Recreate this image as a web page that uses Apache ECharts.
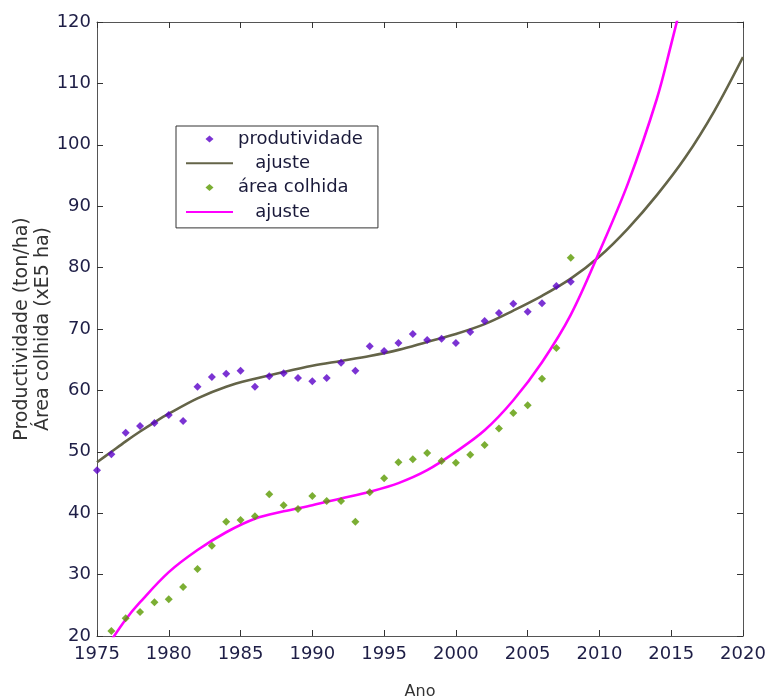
<!DOCTYPE html>
<html>
<head>
<meta charset="utf-8">
<script src="https://cdn.jsdelivr.net/npm/echarts@6/dist/echarts.min.js"></script>
<style>
  html, body { margin: 0; padding: 0; background: #fff; }
  #chart { width: 768px; height: 700px; }
</style>
</head>
<body>
<div id="chart"></div>
<script>
// Observed yearly productivity (ton/ha)
const prodYears = [1975, 1976, 1977, 1978, 1979, 1980, 1981, 1982, 1983, 1984, 1985, 1986,
  1987, 1988, 1989, 1990, 1991, 1992, 1993, 1994, 1995, 1996, 1997, 1998, 1999, 2000,
  2001, 2002, 2003, 2004, 2005, 2006, 2007, 2008];
const prodValues = [47.0, 49.6, 53.1, 54.2, 54.7, 56.0, 55.0, 60.6, 62.2, 62.7, 63.2, 60.6,
  62.3, 62.8, 62.0, 61.5, 62.0, 64.5, 63.2, 67.2, 66.4, 67.7, 69.2, 68.2, 68.4, 67.7,
  69.5, 71.3, 72.6, 74.1, 72.8, 74.2, 77.0, 77.7];

// Observed harvested area (x 1E5 ha)
const areaYears = [1976, 1977, 1978, 1979, 1980, 1981, 1982, 1983, 1984, 1985, 1986,
  1987, 1988, 1989, 1990, 1991, 1992, 1993, 1994, 1995, 1996, 1997, 1998, 1999, 2000,
  2001, 2002, 2003, 2004, 2005, 2006, 2007, 2008];
const areaValues = [20.8, 22.9, 23.9, 25.5, 26.0, 28.0, 30.9, 34.7, 38.6, 38.9, 39.5,
  43.1, 41.3, 40.7, 42.8, 42.0, 42.0, 38.6, 43.4, 45.7, 48.3, 48.8, 49.8, 48.5, 48.2,
  49.5, 51.1, 53.8, 56.3, 57.6, 61.9, 66.9, 81.6];

// Fitted curve for productivity
const prodFitYears = [1975, 1976, 1977, 1978, 1979, 1980, 1982, 1984, 1986, 1988, 1990,
  1992, 1994, 1996, 1998, 2000, 2002, 2004, 2006, 2008, 2010, 2012, 2014, 2016, 2018, 2020];
const prodFitValues = [48.3, 50.0, 51.7, 53.3, 54.8, 56.2, 58.7, 60.6, 61.9, 63.0, 64.0,
  64.8, 65.6, 66.6, 67.9, 69.2, 70.8, 73.0, 75.4, 78.2, 81.8, 86.4, 91.8, 98.0, 105.5, 114.3];

// Fitted curve for harvested area
const areaFitYears = [1975, 1976, 1977, 1978, 1980, 1982, 1984, 1986, 1988, 1990, 1992,
  1994, 1996, 1998, 2000, 2002, 2004, 2006, 2008, 2010, 2012, 2014, 2015, 2016];
const areaFitValues = [15.5, 19.3, 22.7, 25.5, 30.4, 34.0, 36.9, 39.1, 40.3, 41.3, 42.4,
  43.5, 44.9, 47.0, 50.0, 53.5, 58.4, 64.6, 72.3, 82.6, 93.8, 107.5, 116.4, 125.8];

const legendText = {
  produtividade: 'produtividade',
  ajusteProd: '   ajuste',
  areaColhida: 'área colhida',
  ajusteArea: '   ajuste'
};

const pairs = (xs, ys) => xs.map((x, i) => [x, ys[i]]);

const FONT = 'DejaVu Sans';
const tickColor = '#1e1e46';
const frameColor = '#555555';
// Small diamond centred in the legend icon slot (leading moves fix the slot extent)
const legendDiamond = 'path://M0,0 M47,7 M23.5,0 L27.5,3.5 L23.5,7 L19.5,3.5 Z';

const chart = echarts.init(document.getElementById('chart'), null, { renderer: 'canvas' });

const baseX = {
  type: 'value', min: 1975, max: 2020, interval: 5,
  axisLine: { show: true, onZero: false, lineStyle: { color: frameColor, width: 1 } },
  axisTick: { show: true, inside: true, length: 6, lineStyle: { color: '#333' } },
  splitLine: { show: false }
};
const baseY = {
  type: 'value', min: 20, max: 120, interval: 10,
  axisLine: { show: true, onZero: false, lineStyle: { color: frameColor, width: 1 } },
  axisTick: { show: true, inside: true, length: 6, lineStyle: { color: '#333' } },
  splitLine: { show: false }
};

chart.setOption({
  animation: false,
  backgroundColor: '#ffffff',
  textStyle: { fontFamily: FONT },
  grid: { left: 97, right: 25, top: 22, bottom: 64, containLabel: false, outerBoundsMode: 'none' },
  legend: {
    orient: 'vertical',
    left: 176, top: 126,
    padding: [2, 15, 5, 9],
    itemWidth: 47, itemHeight: 7, itemGap: 2.3,
    backgroundColor: '#ffffff',
    borderColor: '#333333', borderWidth: 1,
    textStyle: { fontFamily: FONT, fontSize: 18, color: '#1a1a3a', lineHeight: 22 },
    formatter: name => legendText[name],
    selectedMode: false,
    data: [
      { name: 'produtividade', icon: legendDiamond },
      { name: 'ajusteProd', itemStyle: { opacity: 0 } },
      { name: 'areaColhida', icon: legendDiamond },
      { name: 'ajusteArea', itemStyle: { opacity: 0 } }
    ]
  },
  xAxis: [
    Object.assign({}, baseX, {
      position: 'bottom',
      axisLabel: {
        show: true, margin: 9, fontFamily: FONT, fontSize: 18, color: tickColor,
        formatter: v => String(v)
      },
      name: 'Ano', nameLocation: 'middle', nameGap: 48, nameMoveOverlap: false,
      nameTextStyle: { fontFamily: FONT, fontSize: 16, color: '#333333' }
    }),
    Object.assign({}, baseX, { position: 'top', axisLabel: { show: false } })
  ],
  yAxis: [
    Object.assign({}, baseY, {
      position: 'left',
      axisLabel: { show: true, margin: 6, fontFamily: FONT, fontSize: 18, color: tickColor },
      name: 'Productividade (ton/ha)\nÁrea colhida (xE5 ha)',
      nameLocation: 'middle', nameGap: 43, nameRotate: 90, nameMoveOverlap: false,
      nameTextStyle: { fontFamily: FONT, fontSize: 19, lineHeight: 21, color: '#333333', align: 'center' }
    }),
    Object.assign({}, baseY, { position: 'right', axisLabel: { show: false } })
  ],
  series: [
    {
      name: 'produtividade', type: 'scatter',
      symbol: 'diamond', symbolSize: 8,
      itemStyle: { color: '#5a00c8' },
      data: pairs(prodYears, prodValues), z: 3
    },
    {
      name: 'ajusteProd', type: 'line',
      symbol: 'none', showSymbol: false, smooth: 0.35, clip: true,
      lineStyle: { color: '#646448', width: 2.6 },
      itemStyle: { color: '#646448' },
      data: pairs(prodFitYears, prodFitValues), z: 2
    },
    {
      name: 'areaColhida', type: 'scatter',
      symbol: 'diamond', symbolSize: 8,
      itemStyle: { color: '#5a9a00' },
      data: pairs(areaYears, areaValues), z: 3
    },
    {
      name: 'ajusteArea', type: 'line',
      symbol: 'none', showSymbol: false, smooth: 0.35, clip: true,
      lineStyle: { color: '#ff00ff', width: 2.6 },
      itemStyle: { color: '#ff00ff' },
      data: pairs(areaFitYears, areaFitValues), z: 2
    }
  ]
});
</script>
</body>
</html>
